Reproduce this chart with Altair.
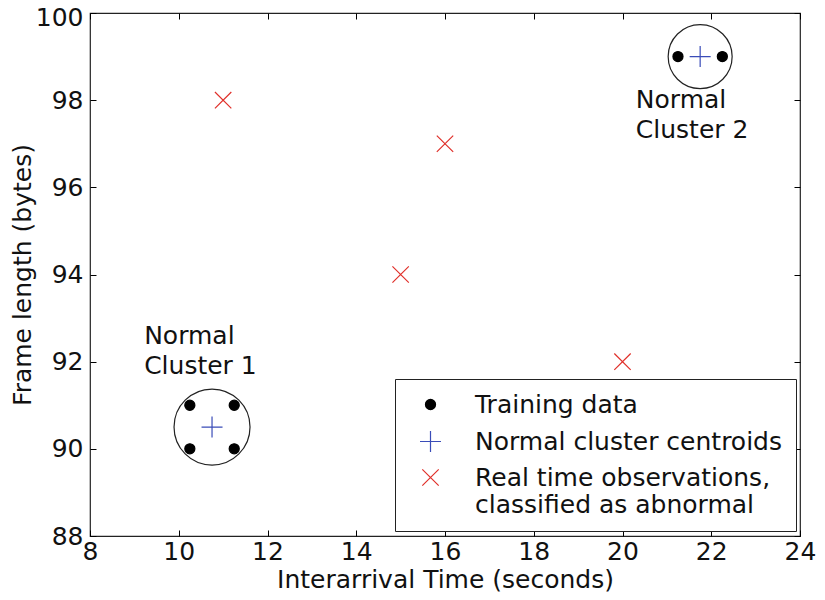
import altair as alt
import pandas as pd

# ---- data ----
train_x = [10.25, 11.25, 10.25, 11.25, 21.25, 22.25]
train_y = [91.0, 91.0, 90.0, 90.0, 99.0, 99.0]
cent_x = [10.75, 21.75]
cent_y = [90.5, 99.0]
obs_x = [11.0, 16.0, 15.0, 20.0]
obs_y = [98.0, 97.0, 94.0, 92.0]
series_names = ["Training data", "Normal cluster centroids",
                "Real time observations,|classified as abnormal"]
circle_x = [10.75, 21.75]
circle_y = [90.5, 99.0]
circle_d = [76, 64]
note_x = [9.22, 20.3]
note_y = [92.4, 97.82]
note_text = ["Normal|Cluster 1", "Normal|Cluster 2"]
x_ticks = list(range(8, 25, 2))
y_ticks = list(range(88, 101, 2))

FONT = "DejaVu Sans"
FS = 25
W, H = 710, 523

rows = []
for x, y in zip(train_x, train_y):
    rows.append({"x": x, "y": y, "series": series_names[0]})
for x, y in zip(cent_x, cent_y):
    rows.append({"x": x, "y": y, "series": series_names[1]})
for x, y in zip(obs_x, obs_y):
    rows.append({"x": x, "y": y, "series": series_names[2]})
pts = pd.DataFrame(rows)

notes = pd.DataFrame({"x": note_x, "y": note_y, "t": note_text})

xs = alt.Scale(domain=[8, 24], nice=False, zero=False)
ys = alt.Scale(domain=[88, 100], nice=False, zero=False)

ax_common = dict(domain=False, grid=False, tickSize=6, offset=-6,
                 tickColor="black", tickWidth=1)

x_axis = alt.Axis(values=x_ticks, title="Interarrival Time (seconds)",
                  labelFont=FONT, labelFontSize=FS, labelColor="#111",
                  titleFont=FONT, titleFontSize=FS, titleFontWeight="normal",
                  titleColor="#111", labelPadding=3, titlePadding=3,
                  labelFlush=False, **ax_common)
y_axis = alt.Axis(values=y_ticks, title="Frame length (bytes)",
                  labelFont=FONT, labelFontSize=FS, labelColor="#111",
                  titleFont=FONT, titleFontSize=FS, titleFontWeight="normal",
                  titleColor="#111", labelPadding=7, titlePadding=0,
                  labelFlush=False,
                  labelOffset={"condition": {"test": "datum.value === 100", "value": 4},
                               "value": 0},
                  **ax_common)
x_axis_top = alt.Axis(values=x_ticks, orient="top", labels=False, title=None,
                      **ax_common)
y_axis_right = alt.Axis(values=y_ticks, orient="right", labels=False,
                        title=None, **ax_common)


def circle_layer(i, axes):
    d = pd.DataFrame({"x": [circle_x[i]], "y": [circle_y[i]]})
    xa, ya = axes
    return alt.Chart(d).mark_point(
        shape="circle", filled=False, color="#222", strokeWidth=1.2,
        opacity=1, size=circle_d[i] ** 2
    ).encode(
        x=alt.X("x:Q", scale=xs, axis=xa),
        y=alt.Y("y:Q", scale=ys, axis=ya),
    )


circle1 = circle_layer(0, (x_axis, y_axis))
circle2 = circle_layer(1, (x_axis_top, y_axis_right))

# marker glyphs (unit paths, drawn at a common symbol size)
SYM = 441
shape_range = [
    "M-0.48,0A0.48,0.48 0 1,0 0.48,0A0.48,0.48 0 1,0 -0.48,0Z",
    "M-1,0L1,0M0,-1L0,1",
    "M-0.78,-0.78L0.78,0.78M-0.78,0.78L0.78,-0.78",
]
stroke_range = ["#000000", "#3a4cb8", "#e0302a"]
fill_range = ["#000000", "transparent", "transparent"]

legend = alt.Legend(
    title=None, orient="none", legendX=305, legendY=366,
    labelFont=FONT, labelFontSize=FS, labelColor="#111",
    labelExpr="split(datum.label, '|')",
    strokeColor="#222", fillColor="white", cornerRadius=0,
    padding=13, rowPadding=10, symbolOffset=10, labelOffset=32,
    symbolStrokeWidth=1.2, symbolSize=SYM, labelLimit=500,
)

points = alt.Chart(pts).mark_point(strokeWidth=1.2, opacity=1, size=SYM).encode(
    x=alt.X("x:Q", scale=xs, axis=None),
    y=alt.Y("y:Q", scale=ys, axis=None),
    shape=alt.Shape("series:N", scale=alt.Scale(domain=series_names, range=shape_range), legend=legend),
    stroke=alt.Stroke("series:N", scale=alt.Scale(domain=series_names, range=stroke_range), legend=legend),
    fill=alt.Fill("series:N", scale=alt.Scale(domain=series_names, range=fill_range), legend=legend),
)

texts = alt.Chart(notes).transform_calculate(
    lines="split(datum.t, '|')"
).mark_text(
    align="left", baseline="alphabetic", font=FONT, fontSize=FS,
    color="#111", lineHeight=30
).encode(
    x=alt.X("x:Q", scale=xs, axis=None),
    y=alt.Y("y:Q", scale=ys, axis=None),
    text="lines:N",
)

chart = alt.layer(circle1, circle2, points, texts).resolve_axis(
    x="independent", y="independent"
).properties(
    width=W, height=H,
    background="white",
    autosize=alt.AutoSizeParams(type="none"),
    padding={"left": 82, "top": 5, "right": 17, "bottom": 56},
).configure_view(
    stroke="#222", strokeWidth=1.2
)

chart.save("out.html", embed_options={"renderer": "svg", "actions": False})
